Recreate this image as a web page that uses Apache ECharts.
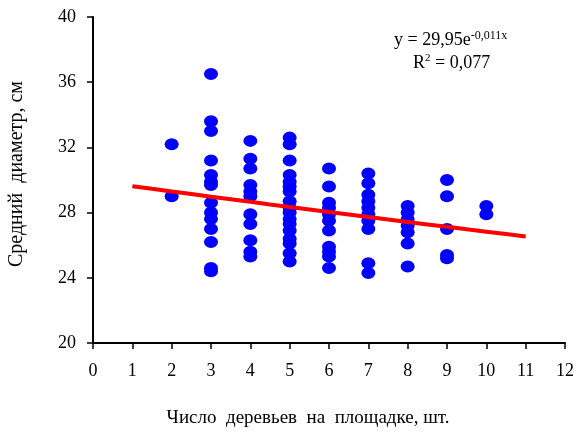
<!DOCTYPE html>
<html>
<head>
<meta charset="utf-8">
<script src="https://cdn.jsdelivr.net/npm/echarts@6/dist/echarts.min.js"></script>
<style>
  html, body { margin: 0; padding: 0; background: #fff; }
  #chart { width: 577px; height: 434px; }
</style>
</head>
<body>
<div id="chart"></div>
<script>
// Mean diameter (cm) of trees, grouped by number of trees on the plot
const treesPerPlot = [2, 3, 4, 5, 6, 7, 8, 9, 10];
const diam2 = [32.2, 29.0];
const diam3 = [36.5, 33.6, 33.0, 31.2, 30.3, 29.9, 29.7, 28.6, 28.0, 27.6, 27.0, 26.2, 24.6, 24.4];
const diam4 = [32.4, 31.3, 30.7, 29.7, 29.3, 29.0, 27.9, 27.3, 26.3, 25.6, 25.3];
const diam5 = [32.6, 32.2, 31.2, 30.3, 29.9, 29.6, 29.3, 28.7, 28.3, 28.0, 27.6, 27.3, 26.9, 26.4, 26.1, 25.5, 25.0];
const diam6 = [30.7, 29.6, 28.6, 28.3, 27.9, 27.5, 26.9, 25.9, 25.6, 25.3, 24.6];
const diam7 = [30.4, 29.8, 29.1, 28.7, 28.3, 27.9, 27.5, 27.0, 24.9, 24.3];
const diam8 = [28.4, 28.0, 27.6, 27.2, 26.8, 26.1, 24.7];
const diam9 = [30.0, 29.0, 27.0, 25.4, 25.2];
const diam10 = [28.4, 27.9];
const diameterGroups = [diam2, diam3, diam4, diam5, diam6, diam7, diam8, diam9, diam10];

// Exponential trend y = a·e^(b·x) with the coefficients shown in its label
const trendA = 29.95;
const trendB = -0.011;
const trendX = [1, 1.5, 2, 2.5, 3, 3.5, 4, 4.5, 5, 5.5, 6, 6.5, 7, 7.5, 8, 8.5, 9, 9.5, 10, 10.5, 11];
const trendR2 = '0,077';

const xTicks = [0, 12, 1];
const yTicks = [20, 40, 4];

const points = [];
treesPerPlot.forEach((n, i) => {
  diameterGroups[i].forEach(v => points.push([n, v]));
});
const trend = trendX.map(x => [x, trendA * Math.exp(trendB * x)]);

const serif = '"Liberation Serif", "Times New Roman", serif';
const chart = echarts.init(document.getElementById('chart'), null, { renderer: 'canvas' });

chart.setOption({
  animation: false,
  backgroundColor: '#ffffff',
  grid: { left: 93, right: 9, top: 17, bottom: 91, containLabel: false },
  xAxis: {
    type: 'value',
    min: xTicks[0], max: xTicks[1], interval: xTicks[2],
    axisLine: { show: true, onZero: false, lineStyle: { color: '#000', width: 2 } },
    axisTick: { show: true, inside: false, length: 6, lineStyle: { color: '#000', width: 1.5 } },
    axisLabel: { color: '#000', fontFamily: serif, fontSize: 18, margin: 19 },
    splitLine: { show: false }
  },
  yAxis: {
    type: 'value',
    min: yTicks[0], max: yTicks[1], interval: yTicks[2],
    axisLine: { show: true, onZero: false, lineStyle: { color: '#000', width: 2 } },
    axisTick: { show: true, inside: false, length: 6, lineStyle: { color: '#000', width: 1.5 } },
    axisLabel: { color: '#000', fontFamily: serif, fontSize: 18, margin: 17 },
    splitLine: { show: false }
  },
  graphic: [
    {
      type: 'text', x: 308, y: 418,
      style: {
        text: 'Число  деревьев  на  площадке, шт.',
        font: '19px ' + serif, fill: '#000',
        align: 'center', verticalAlign: 'middle'
      }
    },
    {
      type: 'text', x: 17, y: 174, rotation: Math.PI / 2,
      style: {
        text: 'Средний  диаметр, см',
        font: '20px ' + serif, fill: '#000',
        align: 'center', verticalAlign: 'middle'
      }
    },
    {
      type: 'text', x: 394, y: 30,
      style: {
        rich: {
          b: { font: '18px ' + serif, fill: '#000' },
          s: { font: '12px ' + serif, fill: '#000', padding: [0, 0, 9, 0] }
        },
        text: '{b|y = 29,95e}{s|-0,011x}'
      }
    },
    {
      type: 'text', x: 413, y: 53,
      style: {
        rich: {
          b: { font: '18px ' + serif, fill: '#000' },
          s: { font: '11px ' + serif, fill: '#000', padding: [0, 0, 9, 0] }
        },
        text: '{b|R}{s|2}{b| = ' + trendR2 + '}'
      }
    }
  ],
  series: [
    {
      type: 'scatter',
      data: points,
      symbol: 'circle',
      symbolSize: [14, 12],
      itemStyle: { color: '#0000ff', opacity: 1 },
      z: 2
    },
    {
      type: 'line',
      data: trend,
      showSymbol: false,
      smooth: false,
      lineStyle: { color: '#ff0000', width: 4 },
      z: 3
    }
  ]
});
</script>
</body>
</html>
